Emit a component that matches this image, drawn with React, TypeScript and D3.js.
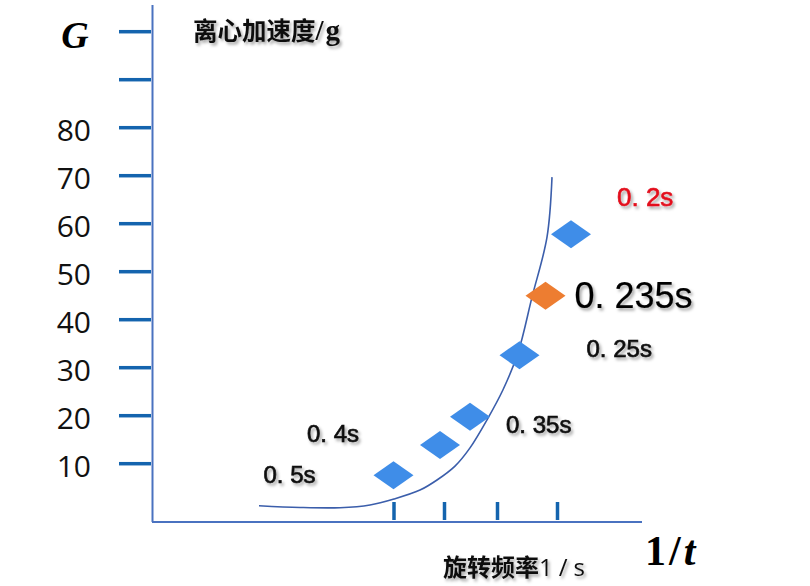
import React from "react";
import * as d3 from "d3";

// ---- data ----
const periodLabels = ["0. 5s", "0. 4s", "0. 35s", "0. 25s", "0. 235s", "0. 2s"];
const freqValues = [4.83, 5.76, 6.36, 7.35, 7.87, 8.38]; // 1/t (schematic units)
const gValues = [7.6, 13.9, 19.8, 32.6, 45.0, 57.8];
const highlightIndex = 4;
const curveFreq = [2.14, 2.96, 3.76, 4.36, 4.84, 5.36, 5.7, 6.06, 6.36, 6.72, 7.02, 7.32, 7.6, 7.9, 8.0];
const curveG = [1.25, 0.88, 0.83, 1.4, 2.65, 4.5, 6.6, 9.5, 13.3, 19.5, 25.4, 33.1, 44.7, 57.2, 69.7];
const xTickValues = [4.84, 5.85, 6.91, 8.11];
const yTickValues = [10, 20, 30, 40, 50, 60, 70, 80, 90, 100];
const yTickLabels = ["10", "20", "30", "40", "50", "60", "70", "80", "", ""];

// ---- layout (label offsets from their point) ----
const labelOffsets: [number, number][] = [
  [-130, 8], [-133, -2.5], [36, 16], [67, 1.5], [29, 12], [46, -28],
];
const labelSizes = [24, 24, 24, 24, 36, 26];
const labelStrokes = [0.7, 0.7, 0.7, 0.7, 0.2, 0.6];
const labelColors = ["#111", "#111", "#111", "#111", "#000", "#e3101c"];

export default function App() {
  const W = 810, H = 586;
  const x = d3.scaleLinear().domain([0, 9.8]).range([152, 642]);
  const y = d3.scaleLinear().domain([0, 100]).range([511.7, 31.7]);
  const axisY = 522;

  const curvePts = curveFreq.map((f, i) => [f, curveG[i]] as [number, number]);
  const line = d3
    .line<[number, number]>()
    .x((d) => x(d[0]))
    .y((d) => y(d[1]))
    .curve(d3.curveCatmullRom.alpha(0.5));

  const diamond = (cx: number, cy: number) =>
    `M${cx - 20},${cy} L${cx},${cy - 14} L${cx + 20},${cy} L${cx},${cy + 14} Z`;

  return (
    <svg width={W} height={H} style={{ position: "absolute", left: 0, top: 0, background: "#fff" }}>
      <defs>
        <filter id="sh" x="-20%" y="-30%" width="140%" height="170%">
          <feDropShadow dx="2" dy="2.5" stdDeviation="1.6" floodColor="#000" floodOpacity="0.35" />
        </filter>
      </defs>
      <rect width={W} height={H} fill="#fff" />

      {/* axes */}
      <line x1={152.5} x2={152.5} y1={5} y2={axisY} stroke="#4a72c0" strokeWidth={2} />
      <line x1={152} x2={642} y1={axisY} y2={axisY} stroke="#4a72c0" strokeWidth={2} />

      {/* y ticks */}
      {yTickValues.map((v, i) => (
        <g key={"yt" + v}>
          <line x1={119} x2={151} y1={y(v)} y2={y(v)} stroke="#1464ae" strokeWidth={3.5} />
          {yTickLabels[i] && (
            <text x={91} y={y(v) + 13} textAnchor="end" fontFamily="'Open Sans', sans-serif" fontSize={30} fill="#111">
              {yTickLabels[i]}
            </text>
          )}
        </g>
      ))}
      <text x={75} y={y(100) + 16} textAnchor="middle" fontFamily="'Liberation Serif', serif" fontWeight="bold" fontStyle="italic" fontSize={38} fill="#000">
        G
      </text>

      {/* x ticks */}
      {xTickValues.map((v) => (
        <line key={"xt" + v} x1={x(v)} x2={x(v)} y1={502} y2={520} stroke="#1464ae" strokeWidth={3.5} />
      ))}

      {/* curve */}
      <path d={line(curvePts) || ""} fill="none" stroke="#3b5eab" strokeWidth={1.6} />

      {/* points */}
      {freqValues.map((f, i) => (
        <path key={"p" + i} d={diamond(x(f), y(gValues[i]))} fill={i === highlightIndex ? "#ed7d31" : "#3f8de8"} />
      ))}

      {/* point labels */}
      {periodLabels.map((lab, i) => (
        <text
          key={"l" + i}
          x={x(freqValues[i]) + labelOffsets[i][0]}
          y={y(gValues[i]) + labelOffsets[i][1]}
          fontFamily="'Liberation Sans', Arial, sans-serif"
          fontSize={labelSizes[i]}
          fill={labelColors[i]}
          stroke={labelColors[i]}
          strokeWidth={labelStrokes[i]}
          filter="url(#sh)"
        >
          {lab}
        </text>
      ))}

      {/* titles */}
      <text x={193} y={40} fontFamily="'Noto Sans CJK SC', sans-serif" fontWeight="bold" fontSize={24.5} fill="#111" filter="url(#sh)">
        离心加速度<tspan fontFamily="'Liberation Serif', serif" fontWeight="bold" fontSize={29} letterSpacing={2}>/g</tspan>
      </text>
      <text x={443} y={576} fontFamily="'Noto Sans CJK SC', sans-serif" fontWeight="bold" fontSize={24} fill="#111" filter="url(#sh)">
        旋转频率<tspan fontFamily="'Open Sans', sans-serif" fontWeight={400} letterSpacing={6}>1/s</tspan>
      </text>
      <text x={645} y={565} fontFamily="'Liberation Serif', serif" fontWeight="bold" fontSize={42} letterSpacing={3} fill="#000">
        1/<tspan fontStyle="italic">t</tspan>
      </text>
    </svg>
  );
}
